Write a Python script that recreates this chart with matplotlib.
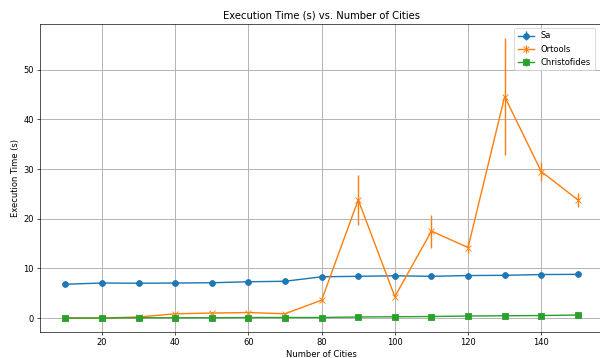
import matplotlib
matplotlib.use("Agg")
import matplotlib.pyplot as plt

cities = [10, 20, 30, 40, 50, 60, 70, 80, 90, 100, 110, 120, 130, 140, 150]

sa_time = [6.8, 7.05, 7.0, 7.05, 7.1, 7.3, 7.4, 8.3, 8.4, 8.5, 8.4, 8.55, 8.6, 8.75, 8.8]
sa_err = [0.05, 0.05, 0.05, 0.05, 0.05, 0.05, 0.05, 0.1, 0.05, 0.05, 0.05, 0.05, 0.05, 0.05, 0.05]

ortools_time = [0.0, 0.0, 0.2, 0.85, 1.0, 1.1, 0.85, 3.6, 23.8, 4.3, 17.5, 14.2, 44.6, 29.5, 23.8]
ortools_err = [0.0, 0.0, 0.05, 0.1, 0.1, 0.1, 0.1, 0.4, 5.1, 0.3, 3.3, 1.2, 11.8, 1.9, 1.4]

christo_time = [0.0, 0.0, 0.05, 0.05, 0.05, 0.1, 0.1, 0.1, 0.2, 0.25, 0.3, 0.4, 0.45, 0.5, 0.6]
christo_err = [0.0, 0.0, 0.0, 0.0, 0.0, 0.0, 0.0, 0.0, 0.02, 0.02, 0.02, 0.02, 0.02, 0.03, 0.03]

plt.figure(figsize=(10, 5.967), dpi=60)
plt.errorbar(cities, sa_time, yerr=sa_err, marker="o", markersize=7, linewidth=1.7, label="Sa")
plt.errorbar(cities, ortools_time, yerr=ortools_err, marker="x", markersize=7, linewidth=1.7, label="Ortools")
plt.errorbar(cities, christo_time, yerr=christo_err, marker="s", markersize=7, linewidth=1.7, label="Christofides")
plt.xlabel("Number of Cities")
plt.ylabel("Execution Time (s)")
plt.title("Execution Time (s) vs. Number of Cities")
plt.legend(loc="upper right", bbox_to_anchor=(0.9915, 1.0))
plt.grid(True, linewidth=1.1)
# the original was cropped on the right, so the axes runs past the edge
plt.subplots_adjust(left=0.0663, right=1.0058, bottom=0.0726, top=0.933)
plt.savefig("out.png", dpi=60)
